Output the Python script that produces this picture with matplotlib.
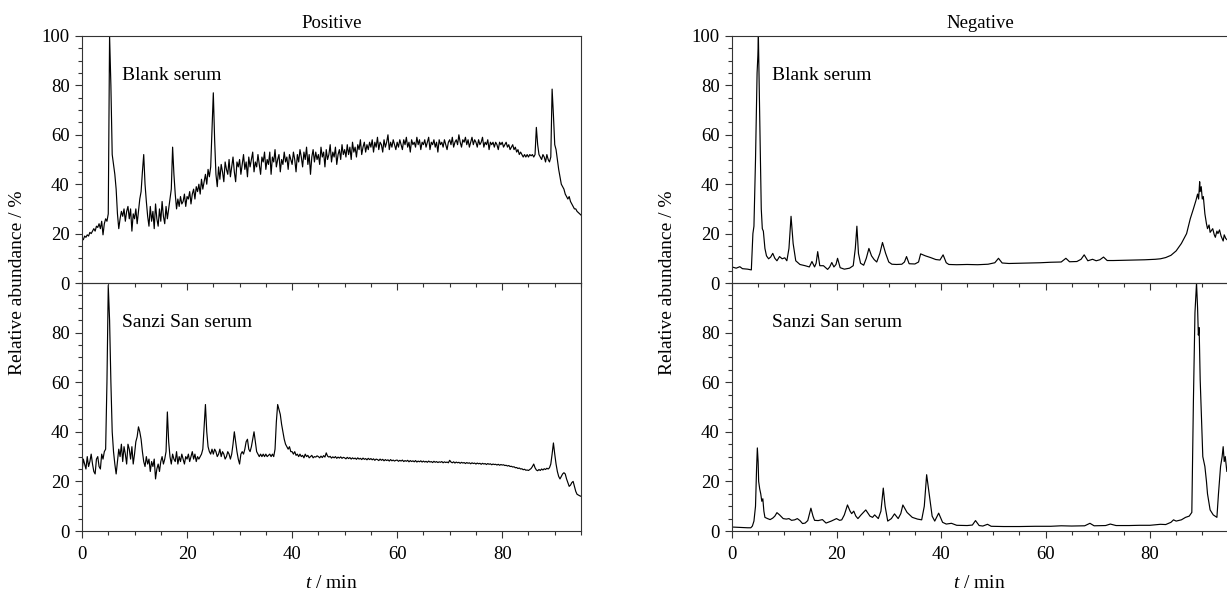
import matplotlib
matplotlib.use('Agg')
import matplotlib.pyplot as plt
import numpy as np
from matplotlib.ticker import MultipleLocator, FixedLocator

plt.rcParams['font.family'] = ['Liberation Serif', 'DejaVu Serif']
plt.rcParams['mathtext.fontset'] = 'custom'
plt.rcParams['mathtext.rm'] = 'Liberation Serif'
plt.rcParams['mathtext.it'] = 'Liberation Serif:italic'

# positive mode, sampled every 0.25 min from 0 to 95 min (one row = 5 min)
pos_time = np.arange(0, 95.1, 0.25)
pos_blank = [
    18, 17.5, 19, 18.5, 19.5, 19, 20.5, 20, 21, 22, 21, 23, 22.5, 24, 22, 25, 19.5, 24, 26, 25,
    28, 100, 80, 52, 48, 44, 38, 28, 22, 26, 29, 27, 30, 25, 29, 31, 26, 30, 21, 28,
    26, 30, 24, 29, 34, 37, 45, 52, 40, 33, 27, 23, 31, 25, 29, 22, 32, 26, 23, 30,
    25, 33, 27, 24, 31, 26, 30, 34, 38, 55, 44, 36, 30, 34, 31, 35, 32, 33, 36, 31,
    35, 34, 37, 32, 36, 38, 34, 39, 37, 40, 36, 42, 38, 41, 44, 40, 46, 43, 47, 62,
    77, 58, 44, 39, 47, 42, 48, 45, 41, 49, 46, 44, 50, 43, 47, 51, 45, 41, 49, 47,
    50, 44, 48, 52, 46, 49, 43, 51, 47, 50, 53, 45, 49, 47, 52, 48, 44, 51, 49, 53,
    46, 50, 48, 53, 44, 51, 49, 54, 47, 50, 52, 45, 50, 48, 53, 49, 51, 46, 52, 50,
    48, 53, 50, 45, 52, 49, 54, 51, 47, 53, 50, 55, 48, 52, 44, 51, 54, 49, 53, 50,
    52, 48, 55, 51, 53, 47, 54, 50, 52, 56, 49, 53, 51, 55, 48, 52, 54, 50, 56, 52,
    54, 51, 56, 52, 55, 50, 57, 53, 55, 51, 56, 54, 58, 52, 55, 57, 53, 56, 54, 57,
    55, 58, 53, 57, 55, 59, 54, 57, 56, 53, 58, 55, 57, 60, 54, 57, 55, 58, 56, 54,
    57, 55, 58, 56, 54, 58, 56, 59, 55, 57, 53, 58, 56, 57, 55, 59, 56, 58, 54, 57,
    56, 58, 55, 57, 59, 54, 57, 56, 58, 55, 57, 53, 58, 56, 57, 55, 58, 56, 54, 57,
    58, 56, 59, 55, 57, 58, 56, 60, 57, 55, 58, 57, 59, 56, 58, 55, 57, 59, 56, 58,
    57, 55, 58, 56, 57, 59, 55, 57, 56, 58, 54, 57, 56, 57, 55, 57, 56, 54, 57, 56,
    57, 55, 56, 57, 55, 56, 54, 55, 56, 54, 55, 53, 54, 52, 53, 52, 51, 52, 51, 52,
    51, 52, 51.5, 52, 51, 52, 63, 56, 52, 51, 50, 52, 51, 49, 52, 50, 49, 51, 78.5, 68,
    56, 54, 50, 46, 43, 40, 39, 38, 36, 35, 34, 35, 33, 32, 31, 30, 30, 29, 28.5, 28,
    27.5]
pos_sanzi = [
    24, 29, 27, 25, 30, 26, 28, 31, 27, 24, 23, 29, 30, 26, 25, 31, 29, 32, 33, 60,
    99, 85, 60, 40, 32, 27, 23, 28, 33, 30, 35, 28, 34, 31, 27, 35, 33, 29, 34, 27,
    31, 36, 38, 42, 40, 37, 32, 28, 26, 30, 27, 29, 24, 28, 26, 29, 21, 25, 27, 24,
    28, 30, 27, 29, 32, 48, 36, 30, 27, 31, 29, 28, 32, 27, 30, 28, 31, 29, 27, 30,
    29, 31, 28, 30, 32, 29, 31, 28, 30, 29, 30, 31, 33, 42, 51, 40, 34, 32, 31, 33,
    31, 33, 32, 30, 31, 33, 30, 32, 31, 29, 30, 32, 31, 29, 31, 35, 40, 36, 32, 29,
    27, 31, 32, 31, 33, 36, 37, 33, 32, 34, 37, 40, 36, 32, 31, 30, 31, 30, 31, 30,
    31, 30, 30.5, 31, 30, 31, 30, 33, 44, 51, 49, 47, 43, 40, 37, 35, 34, 33, 34, 32,
    32, 31, 32, 30.5, 31, 30, 31, 30, 30.5, 29.5, 31, 30, 30.5, 29.5, 30, 30.5, 29.5, 30, 29.8, 30.3,
    30, 29.5, 30.2, 29.6, 30.4, 29.8, 31.5, 30.2, 29.8, 30.1, 29.4, 29.9, 29.5, 30, 29.3, 29.8, 29.4, 29.9, 29.3, 29.7,
    29.5, 29.1, 29.7, 29.2, 29.6, 29.0, 29.5, 29.1, 29.4, 28.9, 29.5, 29.0, 29.3, 28.8, 29.4, 28.9, 29.2, 28.7, 29.3, 28.8,
    29.2, 28.7, 29.1, 28.5, 29.0, 28.8, 28.4, 29.0, 28.5, 28.9, 28.3, 28.8, 28.4, 28.7, 28.2, 28.8, 28.3, 28.6, 28.2, 28.5,
    28.6, 28.1, 28.5, 28.2, 28.6, 28.0, 28.4, 28.1, 28.5, 27.9, 28.4, 28.0, 28.3, 27.9, 28.4, 27.8, 28.2, 27.9, 28.3, 27.8,
    28.2, 27.8, 28.1, 27.7, 28.2, 27.8, 28.0, 27.6, 28.1, 27.7, 28.0, 27.6, 27.9, 27.7, 28.0, 27.5, 27.9, 27.6, 27.8, 27.5,
    28.5, 27.8, 27.5, 27.9, 27.4, 27.8, 27.5, 27.7, 27.3, 27.7, 27.4, 27.6, 27.2, 27.6, 27.3, 27.5, 27.1, 27.5, 27.2, 27.4,
    27.0, 27.4, 27.1, 27.3, 26.9, 27.3, 27.0, 27.2, 26.8, 27.2, 26.9, 27.1, 26.7, 27.0, 26.8, 26.9, 26.6, 26.9, 26.5, 26.8,
    26.6, 26.7, 26.4, 26.5, 26.2, 26.4, 26.0, 26.1, 25.8, 25.9, 25.5, 25.6, 25.2, 25.4, 25.0, 25.1, 24.7, 24.9, 24.5, 24.6,
    24.4, 24.8, 25.2, 26.0, 27.0, 25.5, 24.6, 24.3, 24.8, 24.4, 25.0, 24.6, 25.1, 24.8, 25.3, 25.0, 25.5, 27, 31, 35.5,
    31, 27, 24, 22, 21, 22, 23, 23.5, 23, 21, 19.5, 18, 18.5, 19.5, 20, 18, 16, 14.8, 14.5, 14.2,
    14]

# negative mode, irregular time points
neg_blank_time = [
    0, 0.8, 1.5, 2.0, 3.0, 3.7, 4.0, 4.2, 4.5, 4.8, 4.95, 5.05, 5.2, 5.4, 5.6, 5.8,
    6.0, 6.3, 6.6, 7.0, 7.4, 7.8, 8.2, 8.6, 9.1, 9.6, 10.1, 10.5, 10.9, 11.3, 11.7,
    12.2, 13.0, 14.0, 14.8, 15.3, 15.8, 16.1, 16.4, 16.8, 17.5, 18.3, 18.7, 19.1,
    19.5, 19.9, 20.2, 20.7, 21.5, 22.5, 23.2, 23.6, 23.9, 24.2, 24.6, 25.2, 25.7,
    26.2, 26.7, 27.2, 27.7, 28.3, 28.8, 29.4, 30.0, 30.6, 31.5, 32.5, 33.0, 33.4,
    33.9, 35.0, 35.7, 36.1, 37.0, 38.0, 39.0, 39.8, 40.4, 41.0, 41.5, 43, 45, 47,
    49, 50.3, 51.0, 51.7, 53, 55, 57, 59, 61, 63, 63.9, 64.6, 66.0, 66.8, 67.4,
    68.1, 69.0, 69.7, 70.4, 71.1, 71.8, 73, 75, 77, 79, 81, 82, 83, 84, 85, 86, 87,
    87.7, 88.3, 88.8, 89.1, 89.3, 89.5, 89.6, 89.8, 90.0, 90.2, 90.5, 90.8, 91.0,
    91.3, 91.5, 92.0, 92.3, 92.5, 92.8, 93.0, 93.3, 93.6, 94.0, 94.2, 94.5, 95.0]
neg_blank = [
    6.5, 6.0, 6.6, 5.8, 5.6, 5.3, 20, 23, 50, 85, 92, 100, 80, 55, 30, 22,
    21, 14, 11, 9.8, 10.5, 12, 10, 9, 10.7, 9.8, 10.2, 9.0, 14, 27, 16,
    9, 7.5, 7.0, 6.5, 8.7, 6.5, 8, 12.7, 7, 7, 5.5, 6.5, 8.3,
    6.5, 7.5, 10, 6.2, 5.6, 6.0, 7.0, 14, 23, 12, 8, 7.2, 10,
    14, 11, 9.5, 8.5, 12, 16.4, 12, 8.5, 7.6, 7.5, 7.6, 8.5, 10.7,
    7.8, 7.7, 8.5, 11.8, 11.0, 10.3, 9.5, 9.3, 11.4, 8.2, 7.5, 7.4, 7.5, 7.4,
    7.6, 8.2, 10, 8.1, 7.9, 8.0, 8.1, 8.2, 8.4, 8.5, 10, 8.6, 8.7, 9.6, 11.4,
    9.0, 9.6, 9.0, 9.4, 10.5, 9.1, 9.1, 9.2, 9.3, 9.4, 9.6, 9.8, 10.3, 11.2, 13, 16, 20,
    26, 30, 33.5, 36, 34, 41, 37, 39, 34, 35, 28, 24, 22,
    23.5, 20.5, 22, 19.5, 18.5, 21, 20, 21.5, 19, 17, 19.5, 18, 17]

neg_sanzi_time = [
    0, 1, 2, 3, 3.6, 3.9, 4.2, 4.5, 4.7, 4.85, 5.0, 5.1, 5.3, 5.5, 5.7, 5.9, 6.1,
    6.3, 6.8, 7.3, 7.8, 8.2, 8.6, 9.1, 9.8, 10.4, 10.9, 11.4, 12.0, 12.5, 13.0,
    13.5, 14.0, 14.5, 15.1, 15.5, 15.8, 16.5, 17.3, 18.0, 19.0, 20.0, 20.6, 21.0,
    21.5, 22.1, 22.6, 22.9, 23.3, 23.7, 24.1, 24.7, 25.6, 26.4, 26.9, 27.3, 28.0,
    28.5, 28.95, 29.3, 29.8, 30.5, 31.1, 31.8, 32.3, 32.7, 33.5, 34.5, 35.5, 36.3,
    36.8, 37.25, 37.8, 38.3, 38.8, 39.55, 40.3, 41.0, 42.0, 43.0, 45.0, 46.0, 46.6,
    47.3, 48.0, 48.9, 49.6, 52, 55, 58, 61, 63, 65, 67.5, 68.5, 69.3, 71.5, 72.4,
    73.5, 76, 78, 80, 82.0, 83.0, 84.0, 84.5, 85.0, 86.0, 86.8, 87.5, 88.0, 88.3,
    88.6, 88.9, 89.1, 89.25, 89.4, 89.6, 89.85, 90.1, 90.5, 90.8, 91.0, 91.5, 92.1,
    92.8, 93.1, 93.5, 93.8, 94.0, 94.2, 94.4, 94.7, 95.0]
neg_sanzi = [
    1.6, 1.5, 1.4, 1.3, 1.3, 2, 4, 10, 25, 33.5, 28, 20, 17, 15, 12, 13, 8,
    5.5, 5.0, 4.6, 5.2, 6, 7.4, 6.5, 5.0, 4.8, 5.0, 4.3, 4.5, 5.0, 4.2,
    3.0, 3.2, 4.2, 9.2, 6, 4.3, 4.2, 4.6, 3.2, 4.0, 5.0, 4.3, 4.5,
    6.5, 10.5, 8, 7, 8.0, 6, 5.0, 6.5, 8.5, 6.0, 5.5, 6.5, 5.0,
    8, 17.3, 10, 4.0, 5.0, 6.9, 5.0, 7, 10.5, 7.5, 5.5, 4.8, 4.5,
    10, 22.7, 14, 6, 4.0, 7.2, 3.5, 2.8, 3.1, 2.3, 2.2, 2.4, 4.2,
    2.2, 2.0, 2.7, 1.9, 1.8, 1.8, 1.9, 1.9, 2.1, 2.0, 2.1, 3.1, 2.1, 2.2, 2.8,
    2.2, 2.2, 2.3, 2.3, 2.7, 2.6, 3.5, 4.5, 4.0, 4.5, 5.5, 6.0, 7.5, 52,
    88, 100, 90, 79, 82, 61, 45, 30, 26, 20, 15, 8.5, 6.5,
    5.5, 15, 26, 30, 34, 28, 30, 24, 25]

W, H = 1227, 592
fig = plt.figure(figsize=(W / 100, H / 100), dpi=100)


def px_axes(x0, x1, ytop, ybot):
    ax = fig.add_axes([x0 / W, 1 - ybot / H, (x1 - x0) / W, (ybot - ytop) / H])
    ax.patch.set_alpha(0)
    return ax


def style(ax, top_panel):
    ax.set_xlim(0, 95)
    ax.set_ylim(0, 100)
    for sp in ax.spines.values():
        sp.set_linewidth(0.8)
        sp.set_color('#333333')
    ax.xaxis.set_major_locator(MultipleLocator(20))
    ax.xaxis.set_minor_locator(MultipleLocator(5))
    if top_panel:
        ax.yaxis.set_major_locator(MultipleLocator(20))
    else:
        ax.yaxis.set_major_locator(FixedLocator([0, 20, 40, 60, 80]))
    ax.yaxis.set_minor_locator(MultipleLocator(5))
    ax.tick_params(which='both', direction='out', top=False, right=False,
                   width=0.8, color='#333333', labelsize=13.5)
    ax.tick_params(which='major', length=5)
    ax.tick_params(which='minor', length=2.8)
    ax.tick_params(axis='x', pad=6, labelbottom=not top_panel)
    ax.tick_params(axis='y', pad=4)


panels = [
    (82, 581, 'Positive', pos_time, pos_blank, pos_time, pos_sanzi),
    (732, 1228.4, 'Negative', neg_blank_time, neg_blank, neg_sanzi_time, neg_sanzi),
]

for x0, x1, title, t_top, y_top, t_bot, y_bot in panels:
    ax_bot = px_axes(x0, x1, 283, 531)
    ax_top = px_axes(x0, x1, 36, 283)
    style(ax_top, True)
    style(ax_bot, False)
    ax_top.plot(t_top, y_top, color='black', lw=0.85)
    ax_bot.plot(t_bot, y_bot, color='black', lw=0.85)
    ax_top.text(7.6, 84, 'Blank serum', fontsize=14, va='center')
    ax_bot.text(7.6, 84, 'Sanzi San serum', fontsize=14, va='center')
    ax_top.set_title(title, fontsize=13.5, pad=6)
    xc = (x0 + min(x1, W)) / 2
    fig.text(xc / W, 1 - 588 / H, r'$t$ / min', ha='center', va='baseline', fontsize=14)
    fig.text((x0 - 64) / W, 1 - 283 / H, 'Relative abundance / %', rotation=90,
             ha='center', va='center', fontsize=14)

fig.savefig('out.png', dpi=100)
